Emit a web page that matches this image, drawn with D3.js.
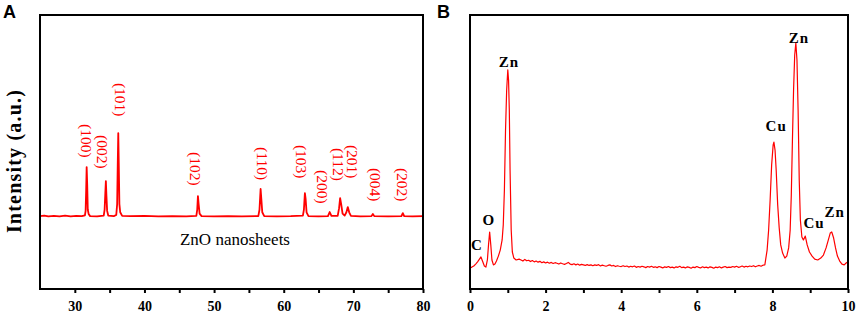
<!DOCTYPE html>
<html>
<head>
<meta charset="utf-8">
<script src="https://cdn.jsdelivr.net/npm/d3@7"></script>
<style>
  body { margin: 0; background: #fff; }
  svg { display: block; }
</style>
</head>
<body>
<script>
// XRD pattern of ZnO nanosheets: [2theta, intensity]
var xrdData = [
    [25.0,26.6],[25.6,26.8],[26.2,26.5],[27.0,26.7],[27.8,26.5],[28.6,26.8],[29.4,26.5],[30.2,26.7],[31.0,26.6],
    [31.45,26.9],[31.55,28.5],[31.63,36],[31.7,44.5],[31.78,38],[31.86,29],[31.98,27.4],[32.2,26.6],
    [33.2,26.5],[34.15,26.8],[34.28,29],[34.38,35],[34.46,39.4],[34.54,34],[34.64,28.5],[34.8,26.8],
    [35.6,26.6],[35.95,27],[36.08,31],[36.16,45],[36.24,56.9],[36.31,46],[36.4,31],[36.52,28],[36.8,26.7],
    [38,26.6],[40,26.7],[42,26.5],[44,26.6],[46,26.5],
    [47.45,26.7],[47.58,29],[47.68,33.9],[47.78,31],[47.92,27.5],[48.2,26.6],
    [50,26.5],[52,26.6],[54,26.5],
    [56.35,26.6],[56.52,29],[56.68,36.5],[56.78,33],[56.92,28],[57.2,26.6],
    [59,26.5],[61,26.6],
    [62.75,26.8],[62.9,29],[63.04,35],[63.14,33],[63.28,28],[63.55,26.6],
    [65,26.5],[66.35,26.6],[66.6,28.1],[66.85,26.7],
    [67.75,26.7],[67.95,29.5],[68.1,33.2],[68.25,31],[68.45,27.5],[68.75,26.8],
    [69.0,28],[69.2,29.9],[69.4,28],[69.65,26.7],
    [71,26.5],[72.6,26.6],[72.8,27.4],[73.0,26.6],
    [75,26.5],[76.9,26.6],[77.1,27.7],[77.3,26.6],[78.5,26.5],[80,26.6]
];

// hkl labels: [text, 2theta, intensity at top of label]
var hklLabels = [
    ["(100)", 31.6, 60.2], ["(002)", 33.9, 56.2], ["(101)", 36.5, 75.2],
    ["(102)", 47.3, 50.0], ["(110)", 57.0, 51.8], ["(103)", 62.6, 52.6],
    ["(200)", 65.6, 43.4], ["(112)", 67.8, 51.5], ["(201)", 69.8, 52.6],
    ["(004)", 73.1, 44.2], ["(202)", 77.1, 44.2]
];

// EDS spectrum: [energy keV, counts]
var edsData = [
    [0.00,7.7],[0.05,8.0],[0.10,8.4],[0.15,9.1],[0.20,9.9],[0.25,10.9],[0.29,11.7],[0.33,10.2],[0.38,8.4],
    [0.42,8.0],[0.46,10.6],[0.49,16.1],[0.52,20.8],[0.55,16.1],[0.58,10.6],[0.62,8.8],[0.66,9.1],[0.70,10.2],
    [0.75,12.0],[0.80,14.2],[0.85,17.9],[0.88,23.4],[0.91,36.1],[0.94,58.0],[0.97,72.6],[1.00,80.0],
    [1.02,76.3],[1.04,65.3],[1.06,43.4],[1.09,21.5],[1.12,13.5],[1.16,11.3],[1.22,10.6],[1.30,10.9],
    [1.35,10.6],[1.40,10.2],[1.45,10.8],[1.50,10.3],[1.55,10.5],[1.60,10.0],[1.65,10.4],[1.70,9.9],
    [1.75,10.2],[1.80,9.8],[1.85,10.1],[1.90,9.6],[1.95,9.9],[2.00,9.5],[2.05,9.8],[2.10,9.4],[2.15,9.7],
    [2.20,9.3],[2.25,9.6],[2.30,9.4],[2.35,9.1],[2.40,9.5],[2.45,9.2],[2.50,9.0],[2.55,9.3],[2.60,9.7],
    [2.65,9.1],[2.70,8.9],[2.75,9.2],[2.80,8.8],[2.85,9.1],[2.90,8.7],[2.95,9.0],[3.00,8.8],[3.05,8.6],
    [3.10,8.9],[3.15,8.6],[3.20,8.8],[3.25,8.5],[3.30,8.8],[3.35,8.6],[3.40,8.9],[3.45,8.4],[3.50,8.7],
    [3.55,8.5],[3.60,8.3],[3.65,8.6],[3.70,8.8],[3.75,8.4],[3.80,8.6],[3.85,8.2],[3.90,8.5],[3.95,8.3],
    [4.00,8.2],[4.05,8.5],[4.10,8.2],[4.15,8.4],[4.20,8.0],[4.25,8.3],[4.30,8.1],[4.35,8.4],[4.40,7.9],
    [4.45,8.2],[4.50,8.0],[4.55,8.3],[4.60,8.1],[4.65,7.8],[4.70,8.2],[4.75,8.0],[4.80,8.3],[4.85,7.9],
    [4.90,8.1],[4.95,7.8],[5.00,8.2],[5.05,8.0],[5.10,7.7],[5.15,8.1],[5.20,7.9],[5.25,8.2],[5.30,7.8],
    [5.35,8.0],[5.40,7.7],[5.45,8.1],[5.50,7.9],[5.55,8.3],[5.60,7.8],[5.65,8.0],[5.70,7.7],[5.75,8.1],
    [5.80,7.9],[5.85,7.6],[5.90,8.0],[5.95,7.8],[6.00,8.2],[6.05,7.9],[6.10,7.7],[6.15,8.1],[6.20,7.8],
    [6.25,8.0],[6.30,7.7],[6.35,8.1],[6.40,7.9],[6.45,7.6],[6.50,8.0],[6.55,7.8],[6.60,8.1],[6.65,7.7],
    [6.70,8.0],[6.75,8.2],[6.80,7.8],[6.85,8.0],[6.90,7.9],[6.95,8.2],[7.00,8.0],[7.05,8.3],[7.10,7.9],
    [7.15,8.1],[7.20,8.4],[7.25,8.0],[7.30,8.3],[7.35,8.1],[7.40,8.4],[7.45,8.2],[7.50,8.5],[7.55,8.1],
    [7.60,8.4],[7.65,8.6],[7.70,8.3],[7.75,8.7],[7.80,8.8],
    [7.86,14.2],[7.90,21.5],[7.94,32.5],[7.98,45.3],[8.02,52.6],[8.04,53.6],[8.07,50.7],[8.10,43.4],
    [8.14,30.7],[8.18,22.3],[8.22,16.1],[8.27,13.1],[8.33,11.3],[8.38,12.0],[8.43,15.0],[8.47,21.5],
    [8.50,34.3],[8.53,54.4],[8.56,72.6],[8.59,85.4],[8.62,89.8],[8.65,83.6],[8.68,65.3],[8.71,39.8],
    [8.74,25.2],[8.78,19.0],[8.82,17.9],[8.87,19.3],[8.92,16.1],[8.98,13.5],[9.05,12.0],[9.12,10.9],
    [9.20,10.6],[9.28,11.3],[9.35,12.4],[9.42,15.0],[9.48,17.9],[9.53,20.4],[9.57,20.8],[9.62,18.6],
    [9.67,15.0],[9.72,12.0],[9.78,10.2],[9.84,9.1],[9.90,8.8],[9.95,9.5],[10.0,9.9]
];

// element labels: [text, energy, counts at text baseline]
var edsLabels = [
    ["Zn", 1.03, 81.0], ["Zn", 8.7, 89.8], ["Cu", 8.1, 57.7],
    ["O", 0.5, 23.4], ["C", 0.18, 14.2], ["Cu", 9.1, 22.3], ["Zn", 9.65, 26.3]
];

var xrdTicks = [30, 40, 50, 60, 70, 80],
    xrdMinor = [35, 45, 55, 65, 75];
var edsTicks = [0, 2, 4, 6, 8, 10],
    edsMinor = [1, 3, 5, 7, 9];

var svg = d3.select("body").append("svg")
    .attr("width", 858)
    .attr("height", 314);

var plotTop = 15, plotBottom = 289;
var y = d3.scaleLinear().domain([0, 100]).range([plotBottom, plotTop]);

function panel(x, ticks, minor, data, stroke, letter, lx) {
    var g = svg.append("g");
    var r = x.range();
    // minor ticks
    g.append("g")
        .attr("transform", "translate(0," + plotBottom + ")")
        .call(d3.axisBottom(x).tickValues(minor).tickSize(4).tickFormat(""))
        .call(a => a.select(".domain").remove())
        .selectAll("line").attr("stroke", "#000").attr("stroke-width", 2);
    // major ticks
    var ax = g.append("g")
        .attr("transform", "translate(0," + plotBottom + ")")
        .call(d3.axisBottom(x).tickValues(ticks).tickSize(4).tickPadding(8));
    ax.select(".domain").remove();
    ax.selectAll("line").attr("stroke", "#000").attr("stroke-width", 2);
    ax.selectAll("text")
        .attr("font-family", "Liberation Serif, Times New Roman, serif")
        .attr("font-weight", "bold")
        .attr("font-size", 14)
        .attr("fill", "#000");

    var line = d3.line()
        .x(d => x(d[0]))
        .y(d => y(d[1]));
    g.append("path")
        .datum(data)
        .attr("fill", "none")
        .attr("stroke", "#ff0000")
        .attr("stroke-width", stroke)
        .attr("stroke-linejoin", "round")
        .attr("d", line);

    // frame
    g.append("rect")
        .attr("x", r[0]).attr("y", plotTop)
        .attr("width", r[1] - r[0]).attr("height", plotBottom - plotTop)
        .attr("fill", "none")
        .attr("stroke", "#000")
        .attr("stroke-width", 2);

    svg.append("text")
        .attr("x", lx).attr("y", 18)
        .attr("font-family", "Liberation Sans, Arial, sans-serif")
        .attr("font-weight", "bold")
        .attr("font-size", 18)
        .text(letter);
    return g;
}

// panel A: XRD
var xA = d3.scaleLinear().domain([25, 80]).range([40, 423]);
var gA = panel(xA, xrdTicks, xrdMinor, xrdData, 1.8, "A", 3);

gA.selectAll(".hkl")
    .data(hklLabels)
    .enter().append("text")
    .attr("class", "hkl")
    .attr("transform", d => "translate(" + xA(d[1]) + "," + y(d[2]) + ") rotate(90)")
    .attr("dy", "0.35em")
    .attr("font-family", "Liberation Serif, Times New Roman, serif")
    .attr("font-size", 15.5)
    .attr("fill", "#ff0000")
    .text(d => d[0]);

gA.append("text")
    .attr("x", 235).attr("y", 245)
    .attr("text-anchor", "middle")
    .attr("font-family", "Liberation Serif, Times New Roman, serif")
    .attr("font-size", 17)
    .text("ZnO nanosheets");

svg.append("text")
    .attr("transform", "translate(21,161) rotate(-90)")
    .attr("text-anchor", "middle")
    .attr("font-family", "Liberation Serif, Times New Roman, serif")
    .attr("font-weight", "bold")
    .attr("font-size", 20)
    .attr("letter-spacing", 1.2)
    .text("Intensity (a.u.)");

// panel B: EDS
var xB = d3.scaleLinear().domain([0, 10]).range([470, 848]);
var gB = panel(xB, edsTicks, edsMinor, edsData, 1.2, "B", 437);

gB.selectAll(".el")
    .data(edsLabels)
    .enter().append("text")
    .attr("class", "el")
    .attr("x", d => xB(d[1]))
    .attr("y", d => y(d[2]))
    .attr("text-anchor", "middle")
    .attr("font-family", "Liberation Serif, Times New Roman, serif")
    .attr("font-weight", "bold")
    .attr("font-size", 15)
    .attr("letter-spacing", 1)
    .text(d => d[0]);
</script>
</body>
</html>
